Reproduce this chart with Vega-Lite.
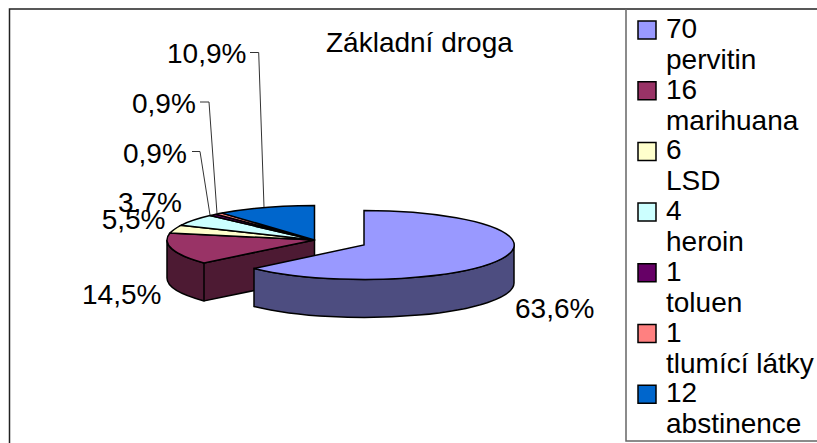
{
"$schema":"https://vega.github.io/schema/vega-lite/v6.json",
"width":817,"height":443,"padding":0,"autosize":{"type":"none"},
"background":"white",
"config":{"view":{"stroke":null},"font":"Liberation Sans"},
"title":{"text":"Základní droga","anchor":"start","frame":"group","dx":326,"offset":-58,"fontSize":28,"fontWeight":"normal","font":"Liberation Sans","color":"#000000"},
"data":{"values":[
{"drug":"pervitin","count":70,"pct":"63,6%","key":"70\npervitin"},
{"drug":"marihuana","count":16,"pct":"14,5%","key":"16\nmarihuana"},
{"drug":"LSD","count":6,"pct":"5,5%","key":"6\nLSD"},
{"drug":"heroin","count":4,"pct":"3,7%","key":"4\nheroin"},
{"drug":"toluen","count":1,"pct":"0,9%","key":"1\ntoluen"},
{"drug":"tlumící látky","count":1,"pct":"0,9%","key":"1\ntlumící látky"},
{"drug":"abstinence","count":12,"pct":"10,9%","key":"12\nabstinence"}
]},
"layer":[
{"transform":[{"filter":"datum.drug==='pervitin'"}],
 "mark":{"type":"point","filled":false,"size":4,"stroke":"#222222","strokeWidth":1.5,"opacity":1,"shape":"M-399,221.5L-399,-212.5L408.5,-212.5"},"encoding":{}},
{"transform":[{"filter":"datum.drug==='pervitin'"}],
 "mark":{"type":"point","filled":false,"size":4,"stroke":"#666666","strokeWidth":1.5,"opacity":1,"shape":"M217.5,-212.5L217.5,219.5L408.5,219.5"},"encoding":{}},
{"transform":[{"filter":"datum.drug==='marihuana'"}],
 "mark":{"type":"point","filled":true,"size":4,"fill":"#4D1A33","stroke":"#000000","strokeWidth":1.5,"opacity":1,"shape":"M-204.5,41.4L-94,18.5L-94,56.5L-204.5,79.4ZM-241.5,18.5A147.5,34.5 0 0 0 -204.5,41.4L-204.5,79.4A147.5,34.5 0 0 1 -241.5,56.5Z"},"encoding":{}},
{"transform":[{"filter":"datum.drug==='pervitin'"}],
 "mark":{"type":"point","filled":true,"size":4,"fill":"#4D4D80","stroke":"#000000","strokeWidth":1.5,"opacity":1,"shape":"M105.5,23.5A150,34.5 0 0 1 -154.5,46.9L-154.5,84.9A150,34.5 0 0 0 105.5,61.5Z"},"encoding":{}},
{"mark":{"type":"point","filled":true,"size":4,"stroke":"#000000","strokeWidth":1.5,"opacity":1},
 "encoding":{
  "fill":{"field":"key","type":"nominal","sort":null,
   "scale":{"domain":["70\npervitin","16\nmarihuana","6\nLSD","4\nheroin","1\ntoluen","1\ntlumící látky","12\nabstinence"],
            "range":["#9999FF","#993366","#FFFFCC","#CCFFFF","#660066","#FF8080","#0066CC"]},
   "legend":{"title":null,"orient":"none","legendX":633,"legendY":16,"padding":0,"symbolType":"square","symbolSize":324,"symbolStrokeColor":"#000000","symbolStrokeWidth":1.5,"symbolOpacity":1,"labelFontSize":28,"labelFont":"Liberation Sans","labelColor":"#000000","labelOffset":5,"labelLimit":300,"labelBaseline":"middle","rowPadding":1.7,"labelExpr":"split(datum.label,'\\n')","encode":{"labels":{"update":{"lineHeight":{"value":31}}}}}},
  "shape":{"field":"drug","type":"nominal","legend":null,
   "scale":{"domain":["pervitin","marihuana","LSD","heroin","toluen","tlumící látky","abstinence"],
    "range":[
     "M-44.5,23.5L-44.5,-11A150,34.5 0 1 1 -154.5,46.9Z",
     "M-94,18.5L-204.5,41.4A147.5,34.5 0 0 1 -238.5,11.6Z",
     "M-94,18.5L-238.5,11.6A147.5,34.5 0 0 1 -227.5,3.8Z",
     "M-94,18.5L-227.5,3.8A147.5,34.5 0 0 1 -198.5,-5.9Z",
     "M-94,18.5L-198.5,-5.9A147.5,34.5 0 0 1 -192.5,-7.2Z",
     "M-94,18.5L-192.5,-7.2A147.5,34.5 0 0 1 -186.5,-8.4Z",
     "M-94,18.5L-186.5,-8.4A147.5,34.5 0 0 1 -94,-16Z"]}}
 }},
{"transform":[{"filter":"indexof(['toluen','tlumící látky','abstinence'],datum.drug)>=0"}],
 "mark":{"type":"point","filled":false,"size":4,"stroke":"#333333","strokeWidth":1,"opacity":1},
 "encoding":{"shape":{"field":"drug","type":"nominal","legend":null,
   "scale":{"domain":["toluen","tlumící látky","abstinence"],
    "range":["M-216.5,-70L-208.5,-70L-198.5,-6.5","M-208.5,-119.5L-199.5,-119.5L-191.5,-8","M-158.5,-169L-149.8,-169L-144.5,-14.5"]}}}},
{"mark":{"type":"text","font":"Liberation Sans","fontSize":28,"align":"left","baseline":"alphabetic","color":"#000000",
  "dx":{"expr":"{'pervitin':106.5,'marihuana':-326.5,'LSD':-306.8,'heroin':-290.5,'toluen':-285.5,'tlumící látky':-276.5,'abstinence':-241.5}[datum.drug]"},
  "dy":{"expr":"{'pervitin':96.5,'marihuana':82.5,'LSD':7.5,'heroin':-9.5,'toluen':-58.5,'tlumící látky':-108.5,'abstinence':-158.5}[datum.drug]"}},
 "encoding":{"text":{"field":"pct","type":"nominal"}}}
],
"resolve":{"scale":{"shape":"independent"}}
}
